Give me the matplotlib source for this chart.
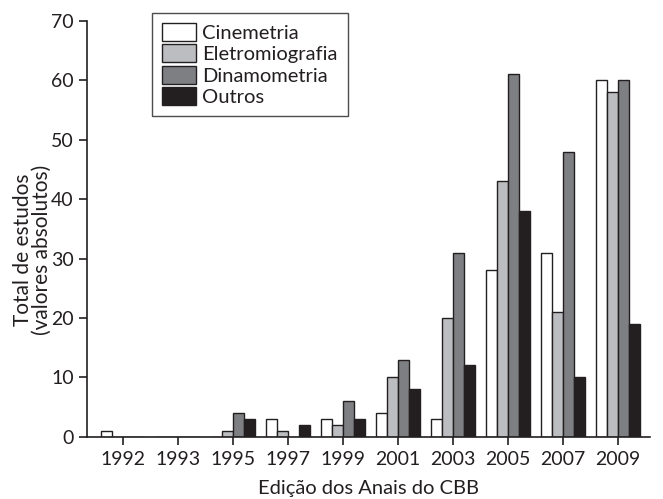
import matplotlib
matplotlib.use("Agg")
import matplotlib.pyplot as plt
import numpy as np

years = ["1992", "1993", "1995", "1997", "1999", "2001", "2003", "2005", "2007", "2009"]
series_names = ["Cinemetria", "Eletromiografia", "Dinamometria", "Outros"]
cinemetria = [1, 0, 0, 3, 3, 4, 3, 28, 31, 60]
eletromiografia = [0, 0, 1, 1, 2, 10, 20, 43, 21, 58]
dinamometria = [0, 0, 4, 0, 6, 13, 31, 61, 48, 60]
outros = [0, 0, 3, 2, 3, 8, 12, 38, 10, 19]
colors = ["#ffffff", "#bcbdc1", "#7e7f83", "#231f20"]

plt.rcParams['font.family'] = ['Lato', 'DejaVu Sans']
TXT = "#231f20"

fig = plt.figure(figsize=(6.63, 4.99), dpi=100)
ax = fig.add_axes([0.1312, 0.1248, 0.8492, 0.8332])

x = np.arange(len(years))
w = 0.2
all_series = [cinemetria, eletromiografia, dinamometria, outros]
for i, (vals, name, c) in enumerate(zip(all_series, series_names, colors)):
    ax.bar(x + (i - 1.5) * w, vals, width=w, color=c, edgecolor=TXT,
           linewidth=1.0, label=name)

ax.set_xlim(-0.655, 9.58)
ax.set_ylim(0, 70)
ax.set_yticks(range(0, 71, 10))
ax.set_xticks(x)
ax.set_xticklabels(years)
for s in ["top", "right"]:
    ax.spines[s].set_visible(False)
for s in ["left", "bottom"]:
    ax.spines[s].set_linewidth(1.2)
    ax.spines[s].set_color(TXT)
ax.tick_params(axis="both", direction="out", length=6, width=1.2, color=TXT,
               labelsize=14, labelcolor=TXT)
ax.tick_params(axis="x", pad=4)

ax.set_ylabel("Total de estudos\n(valores absolutos)", fontsize=15,
              color=TXT, linespacing=0.95)
ax.yaxis.set_label_coords(-0.062, 0.449)
ax.set_xlabel("Edição dos Anais do CBB", fontsize=14.5,
              color=TXT, labelpad=9)

leg = ax.legend(loc="upper left", bbox_to_anchor=(152 / 663, 1 - 13 / 499),
                bbox_transform=fig.transFigure, fontsize=14.5, frameon=True,
                fancybox=False, edgecolor=TXT, handlelength=1.7,
                handleheight=1.0, labelspacing=0.12, handletextpad=0.3,
                borderpad=0.5, borderaxespad=0)
leg.get_frame().set_linewidth(1.0)
for t in leg.get_texts():
    t.set_color(TXT)

fig.savefig("out.png", dpi=100)
